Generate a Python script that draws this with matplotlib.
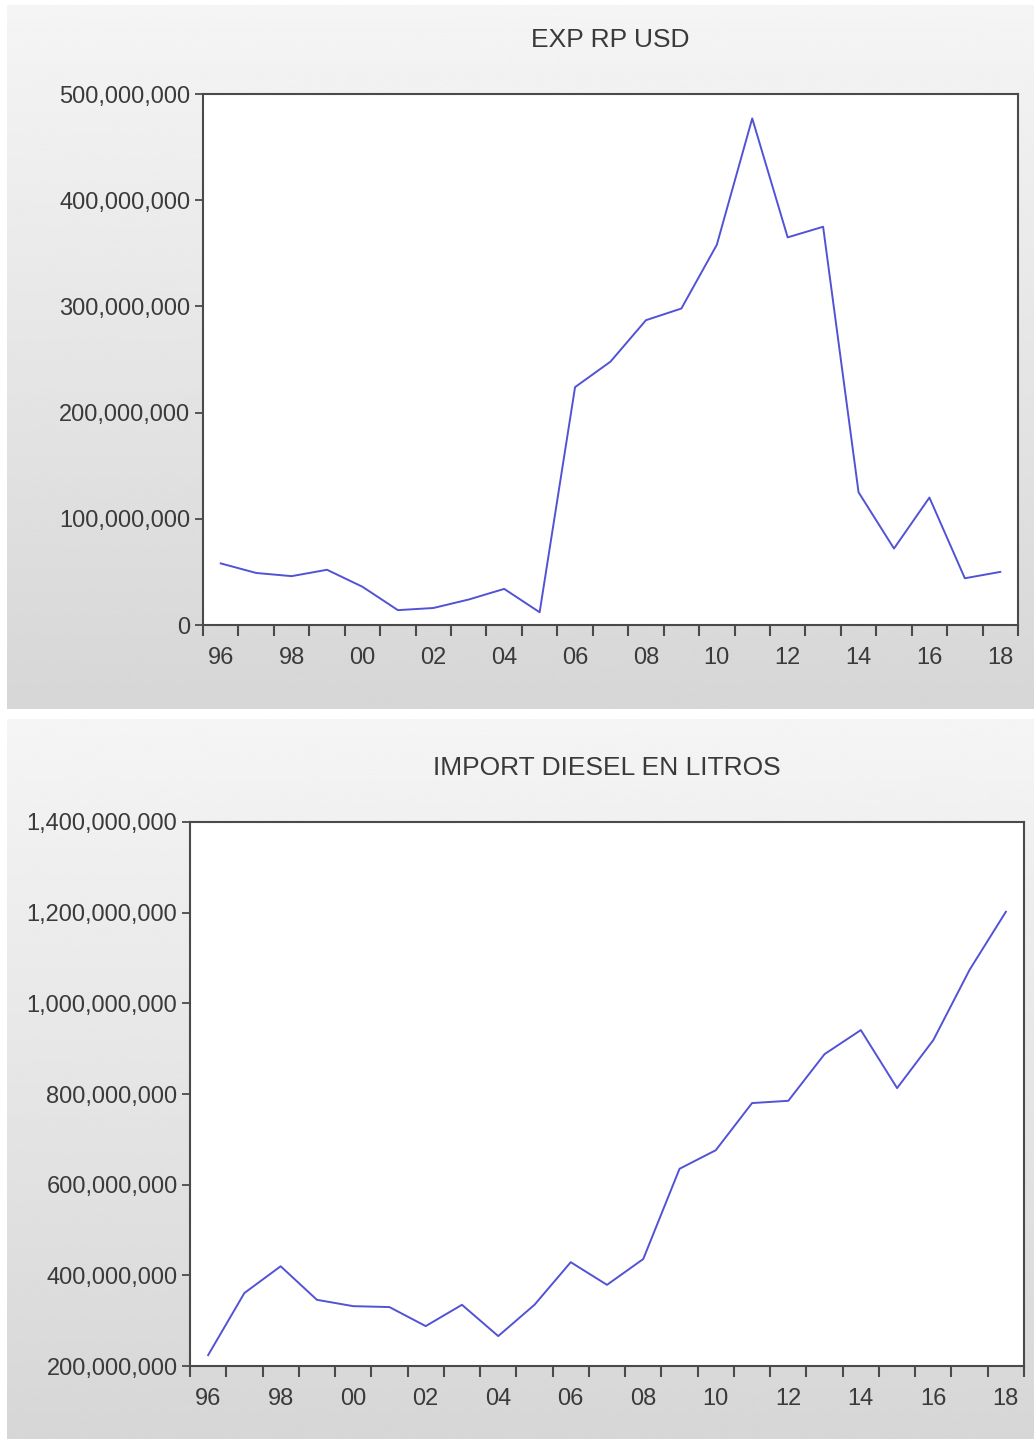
import numpy as np
import matplotlib
matplotlib.use("Agg")
import matplotlib.pyplot as plt
from matplotlib.ticker import FuncFormatter

plt.rcParams['font.family'] = ['Liberation Sans', 'DejaVu Sans']

# Datos (anuales 1996-2018)
years = np.arange(1996, 2019)
exp_rp_usd = [58e6, 49e6, 46e6, 52e6, 36e6, 14e6, 16e6, 24e6, 34e6, 12e6,
              224e6, 248e6, 287e6, 298e6, 358e6, 477e6, 365e6, 375e6,
              125e6, 72e6, 120e6, 44e6, 50e6]
import_diesel = [224e6, 361e6, 420e6, 346e6, 332e6, 330e6, 288e6, 335e6,
                 266e6, 335e6, 429e6, 379e6, 436e6, 635e6, 676e6, 780e6,
                 785e6, 888e6, 941e6, 813e6, 919e6, 1074e6, 1202e6]
year_labels = ["96", "98", "00", "02", "04", "06", "08", "10", "12", "14", "16", "18"]

line_col = "#5252d6"
text_col = "#3a3a3a"
spine_col = "#4a4a4a"

W, H = 1034, 1439
fig = plt.figure(figsize=(W / 100, H / 100), dpi=100)
fig.patch.set_facecolor("white")


def panel_bg(y0, y1):
    # fondo gris degradado del panel (pixeles)
    ax = fig.add_axes([7 / W, 1 - y1 / H, 1 - 7 / W, (y1 - y0) / H], zorder=0)
    grad = np.linspace(0.96, 0.84, 256).reshape(-1, 1)
    ax.imshow(grad, aspect="auto", cmap="gray", vmin=0, vmax=1,
              extent=[0, 1, 0, 1], interpolation="bicubic")
    ax.set_axis_off()


def chart(rect, values, title, yticks, ylim):
    l, t, r, b = rect
    ax = fig.add_axes([l / W, 1 - b / H, (r - l) / W, (b - t) / H], zorder=2)
    ax.set_facecolor("white")
    ax.plot(years + 0.5, values, color=line_col, lw=1.4)
    ax.set_xlim(1996, 2019)
    ax.set_ylim(*ylim)
    ax.set_yticks(yticks)
    ax.yaxis.set_major_formatter(FuncFormatter(lambda v, p: f"{int(v):,}"))
    ax.set_xticks(np.arange(1996, 2020))
    ax.set_xticklabels([])
    ax.set_xticks(np.arange(1996, 2019, 2) + 0.5, minor=True)
    ax.set_xticklabels(year_labels, minor=True)
    ax.tick_params(axis="x", which="major", direction="out", length=8,
                   width=1.5, color=spine_col)
    ax.tick_params(axis="x", which="minor", length=0, pad=16,
                   labelsize=17, labelcolor=text_col)
    ax.tick_params(axis="y", direction="out", length=6, width=1.3,
                   color=spine_col, labelsize=17, labelcolor=text_col, pad=3)
    for s in ax.spines.values():
        s.set_color(spine_col)
        s.set_linewidth(1.5)
    ax.set_title(title, fontsize=19, color=text_col, pad=34)
    return ax


panel_bg(5, 709)
panel_bg(719, 1439)

chart((203, 94, 1018, 625), exp_rp_usd, "EXP RP USD",
      np.arange(0, 500e6 + 1, 100e6), (0, 500e6))
chart((190, 822, 1024, 1366), import_diesel, "IMPORT DIESEL EN LITROS",
      np.arange(200e6, 1400e6 + 1, 200e6), (200e6, 1400e6))

fig.savefig("out.png", dpi=100)
